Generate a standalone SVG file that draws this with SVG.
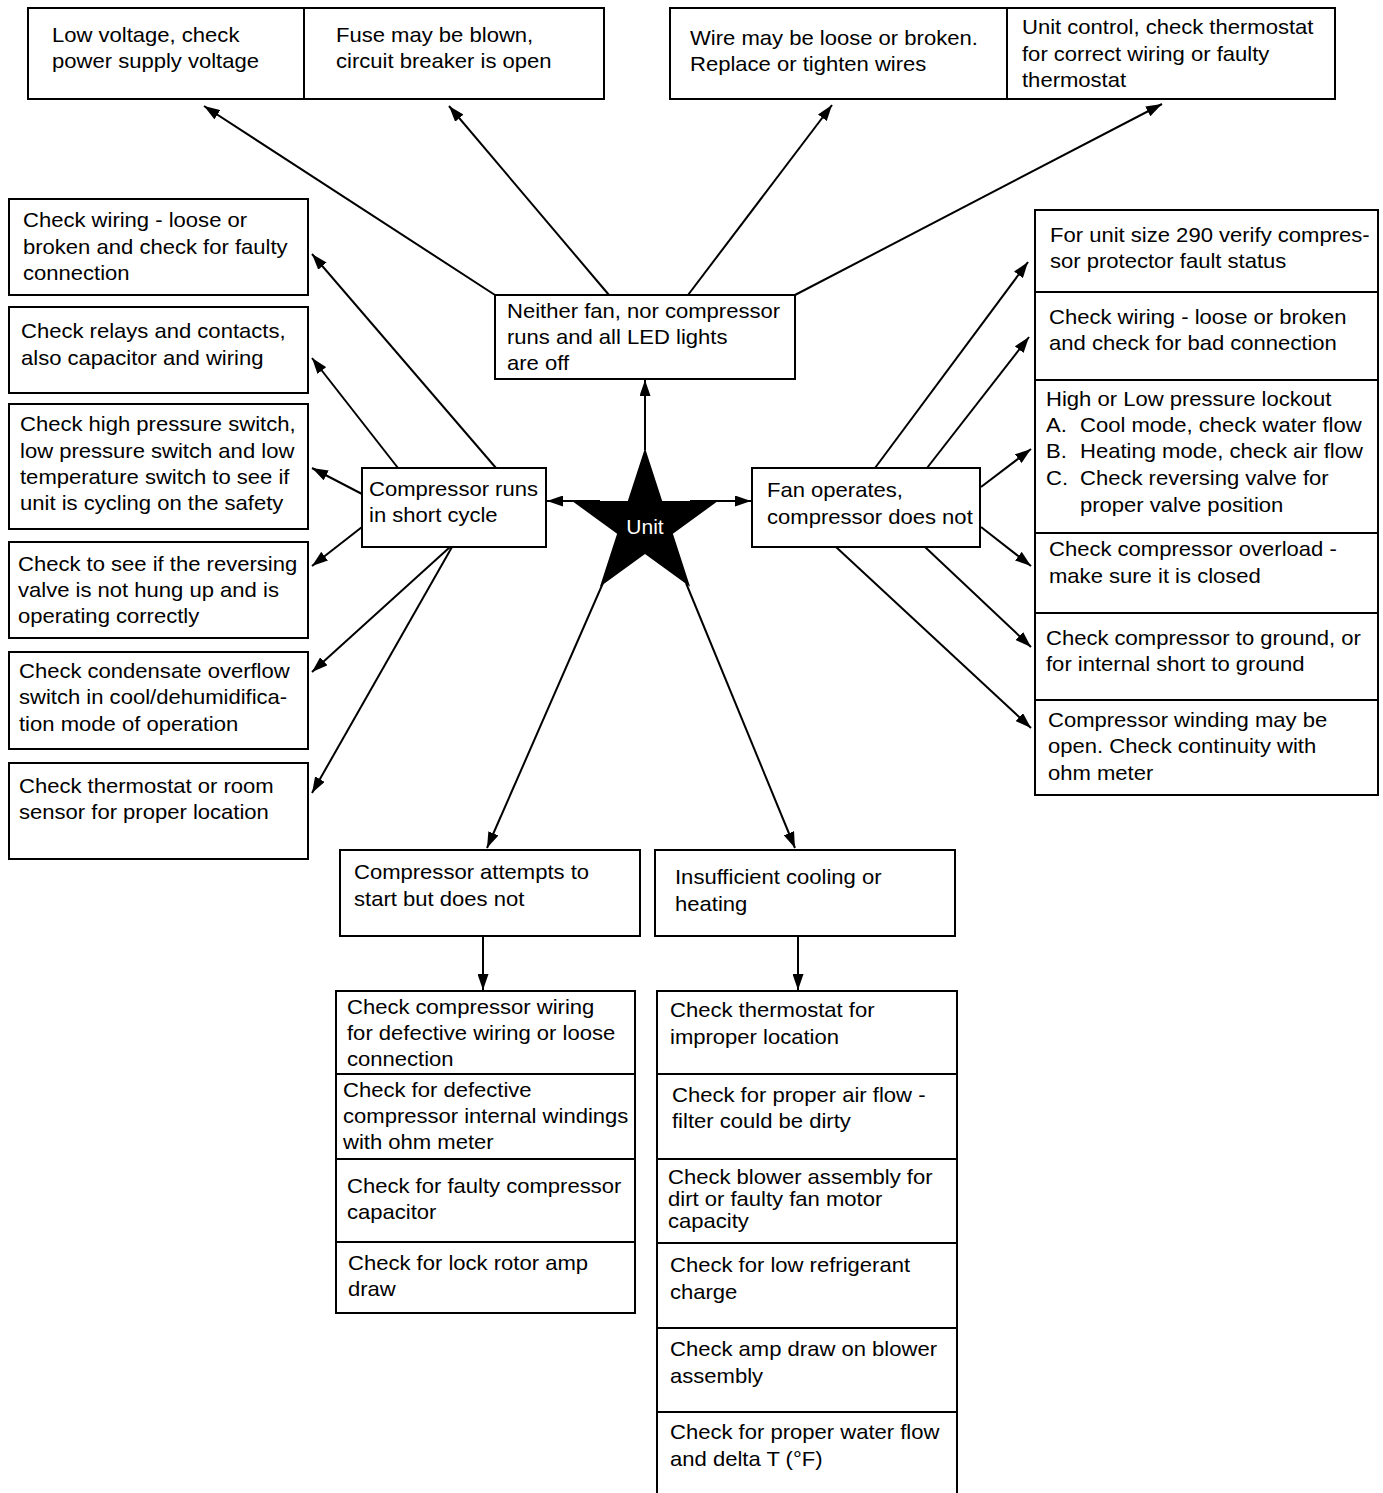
<svg xmlns="http://www.w3.org/2000/svg" width="1383" height="1493" viewBox="0 0 1383 1493">
<style>
.b{fill:#fff;stroke:#000;stroke-width:2}
.d{stroke:#000;stroke-width:2}
.t{font-family:"Liberation Sans",Arial,sans-serif;font-size:21px;fill:#000}
.c{stroke:#000;stroke-width:2;fill:none;marker-end:url(#ah)}
</style>
<defs>
<marker id="ah" viewBox="0 0 16 11" refX="16" refY="5.5" markerWidth="16" markerHeight="11" orient="auto" markerUnits="userSpaceOnUse"><path d="M0,0 L16,5.5 L0,11 z" fill="#000"/></marker>
</defs>
<rect width="1383" height="1493" fill="#fff"/>

<g id="connectors">
<line class="c" x1="495" y1="295" x2="204" y2="106"/>
<line class="c" x1="609" y1="295" x2="449" y2="106"/>
<line class="c" x1="688" y1="295" x2="832" y2="105"/>
<line class="c" x1="795" y1="295" x2="1162" y2="104"/>
<line class="c" x1="645" y1="450" x2="645" y2="380"/>
<line class="c" x1="600" y1="501" x2="547" y2="501"/>
<line class="c" x1="690" y1="501" x2="751" y2="501"/>
<line class="c" x1="603" y1="583" x2="487" y2="848"/>
<line class="c" x1="686" y1="583" x2="795" y2="848"/>
<line class="c" x1="496" y1="468" x2="312" y2="254"/>
<line class="c" x1="398" y1="468" x2="312" y2="358"/>
<line class="c" x1="362" y1="494" x2="312" y2="468"/>
<line class="c" x1="362" y1="527" x2="312" y2="566"/>
<line class="c" x1="450" y1="547" x2="312" y2="672"/>
<line class="c" x1="452" y1="547" x2="312" y2="793"/>
<line class="c" x1="875" y1="468" x2="1028" y2="262"/>
<line class="c" x1="927" y1="468" x2="1029" y2="337"/>
<line class="c" x1="981" y1="487" x2="1031" y2="449"/>
<line class="c" x1="981" y1="527" x2="1031" y2="566"/>
<line class="c" x1="925" y1="547" x2="1031" y2="647"/>
<line class="c" x1="836" y1="547" x2="1031" y2="728"/>
<line class="c" x1="483" y1="936" x2="483" y2="990"/>
<line class="c" x1="798" y1="936" x2="798" y2="990"/>
</g>

<g id="unit">
<path d="M645,448 L662.2,501 L717.9,501 L672.9,533.8 L690.1,586.8 L645,554 L599.9,586.8 L617.1,533.8 L572.1,501 L627.8,501 Z" fill="#000"/>
<text class="t" x="645" y="534" text-anchor="middle" fill="#fff" style="fill:#fff">Unit</text>
</g>

<g id="top-left">
<rect class="b" x="28" y="8" width="576" height="91"/>
<line class="d" x1="304" y1="8" x2="304" y2="99"/>
<text class="t" transform="translate(52,0) scale(1.05,1)"><tspan x="0" y="42">Low voltage, check</tspan><tspan x="0" y="68">power supply voltage</tspan></text>
<text class="t" transform="translate(336,0) scale(1.05,1)"><tspan x="0" y="42">Fuse may be blown,</tspan><tspan x="0" y="68">circuit breaker is open</tspan></text>
</g>

<g id="top-right">
<rect class="b" x="670" y="8" width="665" height="91"/>
<line class="d" x1="1007" y1="8" x2="1007" y2="99"/>
<text class="t" transform="translate(690,0) scale(1.05,1)"><tspan x="0" y="45">Wire may be loose or broken.</tspan><tspan x="0" y="71">Replace or tighten wires</tspan></text>
<text class="t" transform="translate(1022,0) scale(1.05,1)"><tspan x="0" y="34">Unit control, check thermostat</tspan><tspan x="0" y="61">for correct wiring or faulty</tspan><tspan x="0" y="87">thermostat</tspan></text>
</g>

<g id="neither">
<rect class="b" x="495" y="295" width="300" height="84"/>
<text class="t" transform="translate(507,0) scale(1.05,1)"><tspan x="0" y="318">Neither fan, nor compressor</tspan><tspan x="0" y="344">runs and all LED lights</tspan><tspan x="0" y="370">are off</tspan></text>
</g>

<g id="short-cycle">
<rect class="b" x="362" y="468" width="184" height="79"/>
<text class="t" transform="translate(369,0) scale(1.05,1)"><tspan x="0" y="496">Compressor runs</tspan><tspan x="0" y="522">in short cycle</tspan></text>
</g>

<g id="fan-operates">
<rect class="b" x="752" y="468" width="228" height="79"/>
<text class="t" transform="translate(767,0) scale(1.05,1)"><tspan x="0" y="497">Fan operates,</tspan><tspan x="0" y="524">compressor does not</tspan></text>
</g>

<g id="left-1">
<rect class="b" x="9" y="199" width="299" height="96"/>
<text class="t" transform="translate(23,0) scale(1.05,1)"><tspan x="0" y="227">Check wiring - loose or</tspan><tspan x="0" y="254">broken and check for faulty</tspan><tspan x="0" y="280">connection</tspan></text>
</g>
<g id="left-2">
<rect class="b" x="9" y="307" width="299" height="86"/>
<text class="t" transform="translate(21,0) scale(1.05,1)"><tspan x="0" y="338">Check relays and contacts,</tspan><tspan x="0" y="365">also capacitor and wiring</tspan></text>
</g>
<g id="left-3">
<rect class="b" x="9" y="404" width="299" height="125"/>
<text class="t" transform="translate(20,0) scale(1.05,1)"><tspan x="0" y="431">Check high pressure switch,</tspan><tspan x="0" y="458">low pressure switch and low</tspan><tspan x="0" y="484">temperature switch to see if</tspan><tspan x="0" y="510">unit is cycling on the safety</tspan></text>
</g>
<g id="left-4">
<rect class="b" x="9" y="542" width="299" height="96"/>
<text class="t" transform="translate(18,0) scale(1.05,1)"><tspan x="0" y="571">Check to see if the reversing</tspan><tspan x="0" y="597">valve is not hung up and is</tspan><tspan x="0" y="623">operating correctly</tspan></text>
</g>
<g id="left-5">
<rect class="b" x="9" y="652" width="299" height="97"/>
<text class="t" transform="translate(19,0) scale(1.05,1)"><tspan x="0" y="678">Check condensate overflow</tspan><tspan x="0" y="704">switch in cool/dehumidifica-</tspan><tspan x="0" y="731">tion mode of operation</tspan></text>
</g>
<g id="left-6">
<rect class="b" x="9" y="763" width="299" height="96"/>
<text class="t" transform="translate(19,0) scale(1.05,1)"><tspan x="0" y="793">Check thermostat or room</tspan><tspan x="0" y="819">sensor for proper location</tspan></text>
</g>

<g id="right-1">
<rect class="b" x="1035" y="210" width="343" height="82"/>
<text class="t" transform="translate(1050,0) scale(1.05,1)"><tspan x="0" y="242">For unit size 290 verify compres-</tspan><tspan x="0" y="268">sor protector fault status</tspan></text>
</g>
<g id="right-2">
<rect class="b" x="1035" y="292" width="343" height="88"/>
<text class="t" transform="translate(1049,0) scale(1.05,1)"><tspan x="0" y="324">Check wiring - loose or broken</tspan><tspan x="0" y="350">and check for bad connection</tspan></text>
</g>
<g id="right-3">
<rect class="b" x="1035" y="380" width="343" height="153"/>
<text class="t" transform="translate(1046,0) scale(1.05,1)"><tspan x="0" y="406">High or Low pressure lockout</tspan><tspan x="0" y="432">A.</tspan><tspan x="0" y="458">B.</tspan><tspan x="0" y="485">C.</tspan></text>
<text class="t" transform="translate(1080,0) scale(1.05,1)"><tspan x="0" y="432">Cool mode, check water flow</tspan><tspan x="0" y="458">Heating mode, check air flow</tspan><tspan x="0" y="485">Check reversing valve for</tspan><tspan x="0" y="512">proper valve position</tspan></text>
</g>
<g id="right-4">
<rect class="b" x="1035" y="533" width="343" height="80"/>
<text class="t" transform="translate(1049,0) scale(1.05,1)"><tspan x="0" y="556">Check compressor overload -</tspan><tspan x="0" y="583">make sure it is closed</tspan></text>
</g>
<g id="right-5">
<rect class="b" x="1035" y="613" width="343" height="87"/>
<text class="t" transform="translate(1046,0) scale(1.05,1)"><tspan x="0" y="645">Check compressor to ground, or</tspan><tspan x="0" y="671">for internal short to ground</tspan></text>
</g>
<g id="right-6">
<rect class="b" x="1035" y="700" width="343" height="95"/>
<text class="t" transform="translate(1048,0) scale(1.05,1)"><tspan x="0" y="727">Compressor winding may be</tspan><tspan x="0" y="753">open. Check continuity with</tspan><tspan x="0" y="780">ohm meter</tspan></text>
</g>

<g id="attempts">
<rect class="b" x="340" y="850" width="300" height="86"/>
<text class="t" transform="translate(354,0) scale(1.05,1)"><tspan x="0" y="879">Compressor attempts to</tspan><tspan x="0" y="906">start but does not</tspan></text>
</g>
<g id="insufficient">
<rect class="b" x="655" y="850" width="300" height="86"/>
<text class="t" transform="translate(675,0) scale(1.05,1)"><tspan x="0" y="884">Insufficient cooling or</tspan><tspan x="0" y="911">heating</tspan></text>
</g>

<g id="att-1">
<rect class="b" x="336" y="991" width="299" height="83"/>
<text class="t" transform="translate(347,0) scale(1.05,1)"><tspan x="0" y="1014">Check compressor wiring</tspan><tspan x="0" y="1040">for defective wiring or loose</tspan><tspan x="0" y="1066">connection</tspan></text>
</g>
<g id="att-2">
<rect class="b" x="336" y="1074" width="299" height="85"/>
<text class="t" transform="translate(343,0) scale(1.05,1)"><tspan x="0" y="1097">Check for defective</tspan><tspan x="0" y="1123">compressor internal windings</tspan><tspan x="0" y="1149">with ohm meter</tspan></text>
</g>
<g id="att-3">
<rect class="b" x="336" y="1159" width="299" height="83"/>
<text class="t" transform="translate(347,0) scale(1.05,1)"><tspan x="0" y="1193">Check for faulty compressor</tspan><tspan x="0" y="1219">capacitor</tspan></text>
</g>
<g id="att-4">
<rect class="b" x="336" y="1242" width="299" height="71"/>
<text class="t" transform="translate(348,0) scale(1.05,1)"><tspan x="0" y="1270">Check for lock rotor amp</tspan><tspan x="0" y="1296">draw</tspan></text>
</g>

<g id="ins-1">
<rect class="b" x="657" y="991" width="300" height="83"/>
<text class="t" transform="translate(670,0) scale(1.05,1)"><tspan x="0" y="1017">Check thermostat for</tspan><tspan x="0" y="1044">improper location</tspan></text>
</g>
<g id="ins-2">
<rect class="b" x="657" y="1074" width="300" height="85"/>
<text class="t" transform="translate(672,0) scale(1.05,1)"><tspan x="0" y="1102">Check for proper air flow -</tspan><tspan x="0" y="1128">filter could be dirty</tspan></text>
</g>
<g id="ins-3">
<rect class="b" x="657" y="1159" width="300" height="84"/>
<text class="t" transform="translate(668,0) scale(1.05,1)"><tspan x="0" y="1184">Check blower assembly for</tspan><tspan x="0" y="1206">dirt or faulty fan motor</tspan><tspan x="0" y="1228">capacity</tspan></text>
</g>
<g id="ins-4">
<rect class="b" x="657" y="1243" width="300" height="85"/>
<text class="t" transform="translate(670,0) scale(1.05,1)"><tspan x="0" y="1272">Check for low refrigerant</tspan><tspan x="0" y="1299">charge</tspan></text>
</g>
<g id="ins-5">
<rect class="b" x="657" y="1328" width="300" height="84"/>
<text class="t" transform="translate(670,0) scale(1.05,1)"><tspan x="0" y="1356">Check amp draw on blower</tspan><tspan x="0" y="1383">assembly</tspan></text>
</g>
<g id="ins-6">
<rect class="b" x="657" y="1412" width="300" height="90"/>
<text class="t" transform="translate(670,0) scale(1.05,1)"><tspan x="0" y="1439">Check for proper water flow</tspan><tspan x="0" y="1466">and delta T (°F)</tspan></text>
</g>
</svg>
